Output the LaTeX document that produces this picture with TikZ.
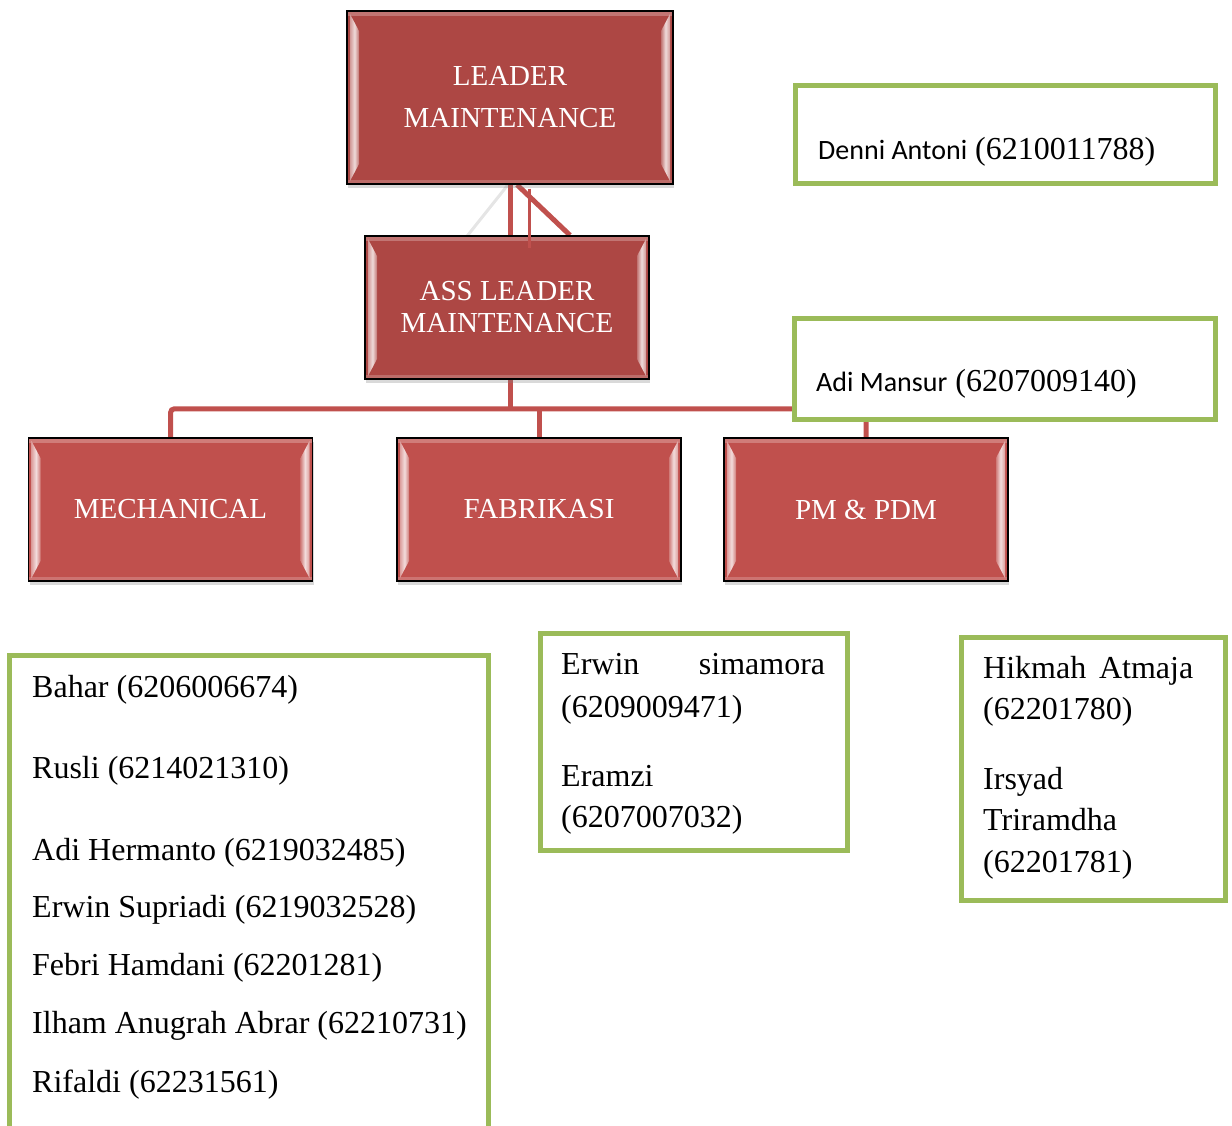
\documentclass[tikz,border=0pt]{standalone}
\usepackage{fontspec}
\setmainfont{Liberation Serif}
\newfontfamily\calib{Carlito}
\usetikzlibrary{shadows,calc,positioning,backgrounds}

\definecolor{unitdark}{HTML}{AD4744}
\definecolor{unitred}{HTML}{C0504D}
\definecolor{linkred}{HTML}{C0504D}
\definecolor{boxgreen}{HTML}{9BBB59}

\tikzset{
  unit/.style={draw=black, line width=1.5pt, fill=#1, text=white, align=center,
    minimum width=284pt, minimum height=143pt, inner sep=0pt,
    font=\fontsize{29}{34}\selectfont,
    drop shadow={shadow xshift=1pt, shadow yshift=-4pt, opacity=.3},
    path picture={
      \fill[#1!75!white] (path picture bounding box.north west) rectangle ($(path picture bounding box.north east)+(0,5)$);
      \fill[#1!80!white] (path picture bounding box.south west) rectangle ($(path picture bounding box.south east)+(0,-4)$);
      \shade[left color=#1!55!white, right color=#1!75!white, middle color=white!80!#1]
        ($(path picture bounding box.north west)+(3,3)$) -- ++(9,17)
        -- ($(path picture bounding box.south west)+(12,-20)$) -- ++(-9,17) -- cycle;
      \shade[left color=#1!75!white, right color=#1!55!white, middle color=white!80!#1]
        ($(path picture bounding box.north east)+(-3,3)$) -- ++(-9,17)
        -- ($(path picture bounding box.south east)+(-12,-20)$) -- ++(9,17) -- cycle;
    }},
  link/.style={draw=linkred, line width=5pt},
  namebox/.style={draw=boxgreen, line width=5pt, fill=white, inner sep=0pt},
  entry/.style={anchor=base west, inner sep=0pt, font=\fontsize{32}{38}\selectfont},
}

\begin{document}
\begin{tikzpicture}[x=1pt, y=-1pt]
\useasboundingbox (0,0) rectangle (1232,1126);

% units
\node[unit=unitdark, minimum width=326pt, minimum height=173pt, font=\fontsize{29}{42}\selectfont] (leader) at (510,97.5) {LEADER\\MAINTENANCE};
\node[unit=unitdark, font=\fontsize{29}{32}\selectfont] (ass) at (507,307.5) {ASS LEADER\\MAINTENANCE};
\node[unit=unitred] (mech) at (170.5,509.5) {MECHANICAL};
\node[unit=unitred] (fab) at (539,509.5) {FABRIKASI};
\node[unit=unitred] (pm) at (866,509.5) {PM \& PDM};

% connectors
\begin{scope}[on background layer]
\draw[gray!20, line width=3pt] ($(leader.south)+(-2,0)$) -- ($(ass.north)+(-52,16)$);
\draw[link] (leader.south) -- (leader.south |- ass.north);
\draw[link] ($(leader.south)+(7,0)$) -- ($(ass.north)+(63,0)$);
\draw[link] (leader.south |- ass.south) -- ++(0,31);
\draw[link, rounded corners=4pt] (mech.north) -- ++(0,-28.5) -| (pm.north);
\draw[link] (fab.north) -- ++(0,-28);
\end{scope}
\draw[link, line width=3pt] ($(leader.south)+(19,4)$) -- ($(ass.north)+(22,13)$);

% names
\node[namebox, minimum width=420pt, minimum height=97.5pt] (denni) at (1005.5,134.3) {};
\node[entry] (dennit) at (818,160) {{\calib\fontsize{28}{34}\selectfont Denni Antoni} (6210011788)};
\node[namebox, minimum width=420.5pt, minimum height=101pt] (adi) at (1004.75,368.5) {};
\node[entry] (adit) at (816,391.5) {{\calib\fontsize{28}{34}\selectfont Adi Mansur} (6207009140)};

\draw[boxgreen, line width=5pt] (9.5,1130) |- (488,655.5) -- (488,1130);
\foreach \yy/\who [count=\i] in {697/Bahar (6206006674), 778/Rusli (6214021310),
    860/Adi Hermanto (6219032485), 917/Erwin Supriadi (6219032528),
    975/Febri Hamdani (62201281), 1033/Ilham Anugrah Abrar (62210731),
    1092/Rifaldi (62231561)}
  \node[entry] (mechp\i) at (32,\yy) {\who};

\node[namebox, minimum width=307.5pt, minimum height=217pt] (fabbox) at (693.75,741.5) {};
\node[entry] (fabp1) at (561,674) {\makebox[264pt][s]{Erwin simamora}};
\node[entry] (fabp2) at (561,717) {(6209009471)};
\node[entry] (fabp3) at (561,786) {Eramzi};
\node[entry] (fabp4) at (561,827) {(6207007032)};

\node[namebox, minimum width=264pt, minimum height=263pt] (pmbox) at (1093,768.5) {};
\node[entry] (pmp1) at (983,678) {\makebox[210pt][s]{Hikmah Atmaja}};
\node[entry] (pmp2) at (983,719) {(62201780)};
\node[entry] (pmp3) at (983,789) {Irsyad};
\node[entry] (pmp4) at (983,830) {Triramdha};
\node[entry] (pmp5) at (983,872) {(62201781)};
\end{tikzpicture}
\end{document}
